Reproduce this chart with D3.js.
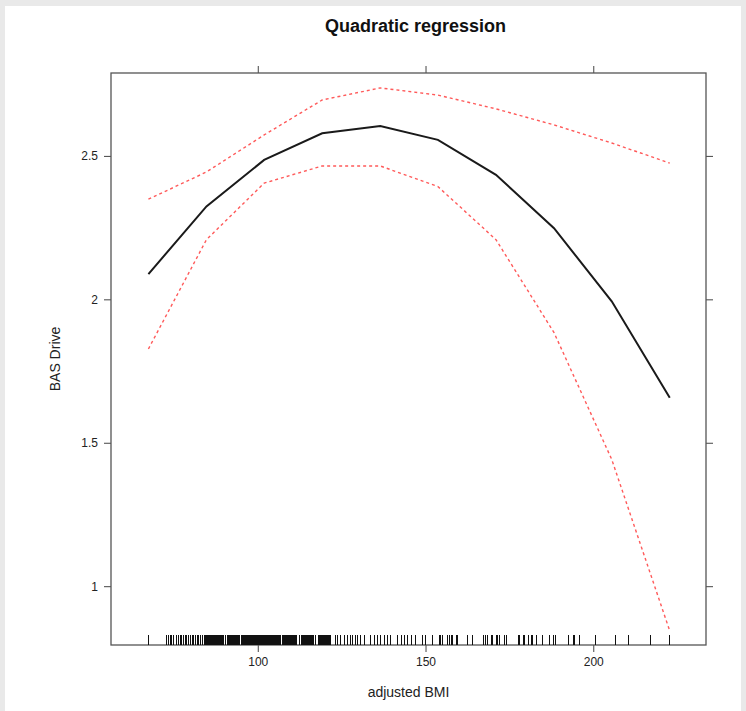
<!DOCTYPE html>
<html>
<head>
<meta charset="utf-8">
<script src="https://cdn.jsdelivr.net/npm/d3@7"></script>
<style>
  html, body { margin: 0; padding: 0; background: #e9e9e9; }
  svg { display: block; font-family: "Liberation Sans", Arial, sans-serif; }
</style>
</head>
<body>
<div id="chart"></div>
<script>
// fitted values of the effect plot
const bmi = [67.4, 84.7, 101.9, 119.2, 136.5, 153.7, 171.0, 188.3, 205.5, 222.8];
const fit = [2.088, 2.324, 2.486, 2.579, 2.604, 2.556, 2.434, 2.248, 1.993, 1.657];
const upper = [2.349, 2.444, 2.573, 2.695, 2.737, 2.712, 2.664, 2.608, 2.545, 2.475];
const lower = [1.827, 2.208, 2.405, 2.465, 2.465, 2.393, 2.208, 1.884, 1.442, 0.844];

const xTicks = [100, 150, 200];
const yTicks = [1, 1.5, 2, 2.5];

// observed adjusted BMI values (rug)
const rug = [
  67.4, 72.9, 73.4, 73.9, 74.4, 74.9, 75.9, 76.4, 76.9, 77.4, 77.9, 78.4, 78.9, 79.4, 79.9,
  80.4, 80.9, 81.4, 81.9, 82.4, 82.9, 83.6,
  84.0, 84.3, 84.6, 84.9, 85.2, 85.5, 85.8, 86.1, 86.4, 86.7, 87.0, 87.3, 87.6, 87.9,
  88.2, 88.5, 88.8, 89.1, 89.4, 89.7, 90.4,
  91.1, 91.4, 91.7, 92.0, 92.3, 92.6, 92.9, 93.2, 93.5, 93.8, 94.1, 94.4, 94.7, 95.0,
  95.3, 95.6, 95.9, 96.2, 96.5, 96.8, 97.1, 97.4, 97.7, 98.0, 98.3, 98.6, 98.9, 99.2,
  99.5, 99.8, 100.1, 100.4, 100.7, 101.0, 101.3, 101.6, 101.9, 102.2, 102.5, 102.8,
  103.1, 103.4, 103.7, 104.0, 104.3, 104.6, 104.9, 105.2, 105.5, 105.8, 106.1, 106.4,
  106.7, 107.4, 107.7, 108.0, 108.3, 108.6, 108.9, 109.2, 109.5, 109.8, 110.1, 110.4,
  110.7, 111.0, 111.3, 111.6, 112.4, 112.9, 113.2, 113.5, 113.8, 114.1, 114.4, 114.7,
  115.0, 115.3, 115.6, 115.9, 116.2, 116.5, 117.3, 118.0, 118.3, 118.6, 118.9, 119.2,
  119.5, 119.8, 120.1, 120.4, 120.7, 121.0, 121.3, 121.6,
  123.2, 123.7, 124.7, 125.7, 126.7, 127.7, 128.2, 129.2, 129.7, 130.7, 131.7, 133.7,
  134.7, 135.7, 136.7, 137.7, 138.7, 139.7, 141.7, 142.7, 143.7, 144.7, 145.7, 146.9,
  149.2, 149.9, 152.2, 154.1, 154.6, 155.1, 156.6, 157.1, 157.6, 158.1, 159.1, 159.6,
  162.6, 164.1, 167.4, 167.8, 168.4, 169.6, 170.1, 171.1, 171.6, 172.1, 173.6, 174.1,
  177.6, 178.1, 179.1, 179.5, 180.6, 181.5, 182.0, 183.0, 185.0, 187.0,
  188.0, 188.7, 192.7, 194.2, 194.5, 196.0, 200.8, 206.7, 210.6, 217.1, 222.8
];

const W = 746, H = 711;
const margin = { top: 73, right: 40, bottom: 66, left: 111 };
const width = W - margin.left - margin.right;
const height = H - margin.top - margin.bottom;

const svg = d3.select("#chart").append("svg")
  .attr("width", W)
  .attr("height", H);

// white panel over the grey page
svg.append("rect")
  .attr("x", 5).attr("y", 6)
  .attr("width", W - 10).attr("height", H - 6)
  .attr("fill", "#ffffff");

const g = svg.append("g")
  .attr("transform", `translate(${margin.left},${margin.top})`);

const x = d3.scaleLinear().domain([56.25, 233.6]).range([0, width]);
const y = d3.scaleLinear().domain([0.795, 2.789]).range([height, 0]);

const tickColor = "#444";

// axes on all four sides, labels only left and bottom
const xBottom = g.append("g").attr("transform", `translate(0,${height})`)
  .call(d3.axisBottom(x).tickValues(xTicks).tickSize(7).tickPadding(5).tickFormat(d3.format("d")));
const xTop = g.append("g")
  .call(d3.axisTop(x).tickValues(xTicks).tickSize(7).tickFormat(""));
const yLeft = g.append("g")
  .call(d3.axisLeft(y).tickValues(yTicks).tickSize(7).tickPadding(6).tickFormat(d => d));
const yRight = g.append("g").attr("transform", `translate(${width},0)`)
  .call(d3.axisRight(y).tickValues(yTicks).tickSize(7).tickFormat(""));

[xBottom, xTop, yLeft, yRight].forEach(a => {
  a.select(".domain").remove();
  a.selectAll(".tick line").attr("stroke", tickColor).attr("stroke-width", 1);
  a.selectAll(".tick text").attr("fill", "#222").style("font-size", "12px");
});

// frame
g.append("rect")
  .attr("width", width).attr("height", height)
  .attr("fill", "none")
  .attr("stroke", "#555")
  .attr("stroke-width", 1.3);

// rug
g.append("g").selectAll("line.rug")
  .data(rug)
  .join("line")
  .attr("class", "rug")
  .attr("x1", d => x(d)).attr("x2", d => x(d))
  .attr("y1", height - 10).attr("y2", height)
  .attr("stroke", "#111")
  .attr("stroke-width", 1)
  .attr("shape-rendering", "crispEdges");

const line = d3.line()
  .x(d => x(d[0]))
  .y(d => y(d[1]));

const zip = vals => bmi.map((b, i) => [b, vals[i]]);

[upper, lower].forEach(band => {
  g.append("path")
    .datum(zip(band))
    .attr("d", line)
    .attr("fill", "none")
    .attr("stroke", "#ff5a5a")
    .attr("stroke-width", 1.4)
    .attr("stroke-dasharray", "3,3");
});

g.append("path")
  .datum(zip(fit))
  .attr("d", line)
  .attr("fill", "none")
  .attr("stroke", "#1a1a1a")
  .attr("stroke-width", 2);

// titles
svg.append("text")
  .attr("x", margin.left + width / 2 + 7)
  .attr("y", 32)
  .attr("text-anchor", "middle")
  .style("font-size", "18px")
  .style("font-weight", "bold")
  .attr("fill", "#111")
  .text("Quadratic regression");

svg.append("text")
  .attr("x", margin.left + width / 2)
  .attr("y", 697)
  .attr("text-anchor", "middle")
  .style("font-size", "14px")
  .attr("fill", "#222")
  .text("adjusted BMI");

svg.append("text")
  .attr("transform", `translate(60,${margin.top + height / 2}) rotate(-90)`)
  .attr("text-anchor", "middle")
  .style("font-size", "14px")
  .attr("fill", "#222")
  .text("BAS Drive");
</script>
</body>
</html>
